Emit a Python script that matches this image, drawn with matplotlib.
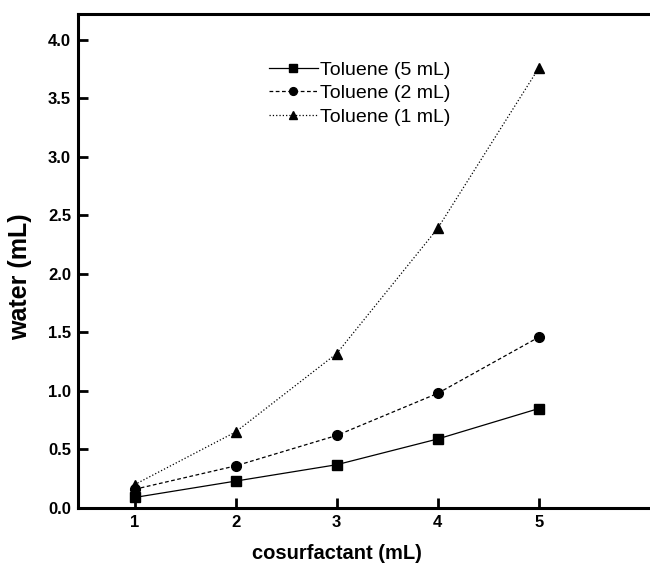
import matplotlib
matplotlib.use("Agg")
import matplotlib.pyplot as plt

plt.rcParams['font.family'] = ['Liberation Sans', 'DejaVu Sans']

# cosurfactant added vs. water solubilised, for three toluene volumes
cosurfactant = [1, 2, 3, 4, 5]
water_tol5 = [0.09, 0.23, 0.37, 0.59, 0.85]
water_tol2 = [0.16, 0.36, 0.62, 0.98, 1.46]
water_tol1 = [0.20, 0.65, 1.32, 2.39, 3.76]
labels = ['Toluene (5 mL)', 'Toluene (2 mL)', 'Toluene (1 mL)']
y_ticks = [0.0, 0.5, 1.0, 1.5, 2.0, 2.5, 3.0, 3.5, 4.0]

fig = plt.figure(figsize=(6.5, 5.75), dpi=100)
ax = fig.add_axes([0.12, 0.1165, 0.88, 0.859])

ax.plot(cosurfactant, water_tol5, '-', color='black', lw=0.9,
        marker='s', ms=6.5, label=labels[0])
ax.plot(cosurfactant, water_tol2, '--', color='black', lw=0.9,
        marker='o', ms=7, label=labels[1], dashes=(3, 2))
ax.plot(cosurfactant, water_tol1, ':', color='black', lw=0.9,
        marker='^', ms=7.5, label=labels[2])

ax.set_xlim(0.44, 6.1)
ax.set_ylim(0, 4.22)
ax.set_xticks(cosurfactant)
ax.set_yticks(y_ticks)
ax.set_yticklabels([f'{v:.1f}' for v in y_ticks])

for side in ['left', 'bottom', 'top']:
    ax.spines[side].set_linewidth(2.2)
ax.spines['right'].set_visible(False)

ax.tick_params(direction='in', length=7, width=2, pad=5, labelsize=12)
for lab in ax.get_xticklabels() + ax.get_yticklabels():
    lab.set_fontweight('bold')

ax.set_xlabel('cosurfactant (mL)', fontsize=14.5, fontweight='bold')
ax.set_ylabel('water (mL)', fontsize=18, fontweight='bold')
ax.xaxis.set_label_coords(0.452, -0.072)
ax.yaxis.set_label_coords(-0.08, 0.468)

ax.legend(loc='upper left', bbox_to_anchor=(0.334, 0.905), frameon=False,
          fontsize=14, markerscale=0.8,
          handlelength=2.5, handletextpad=0.1,
          labelspacing=0.3, borderpad=0, borderaxespad=0)

fig.savefig('out.png', dpi=100)
